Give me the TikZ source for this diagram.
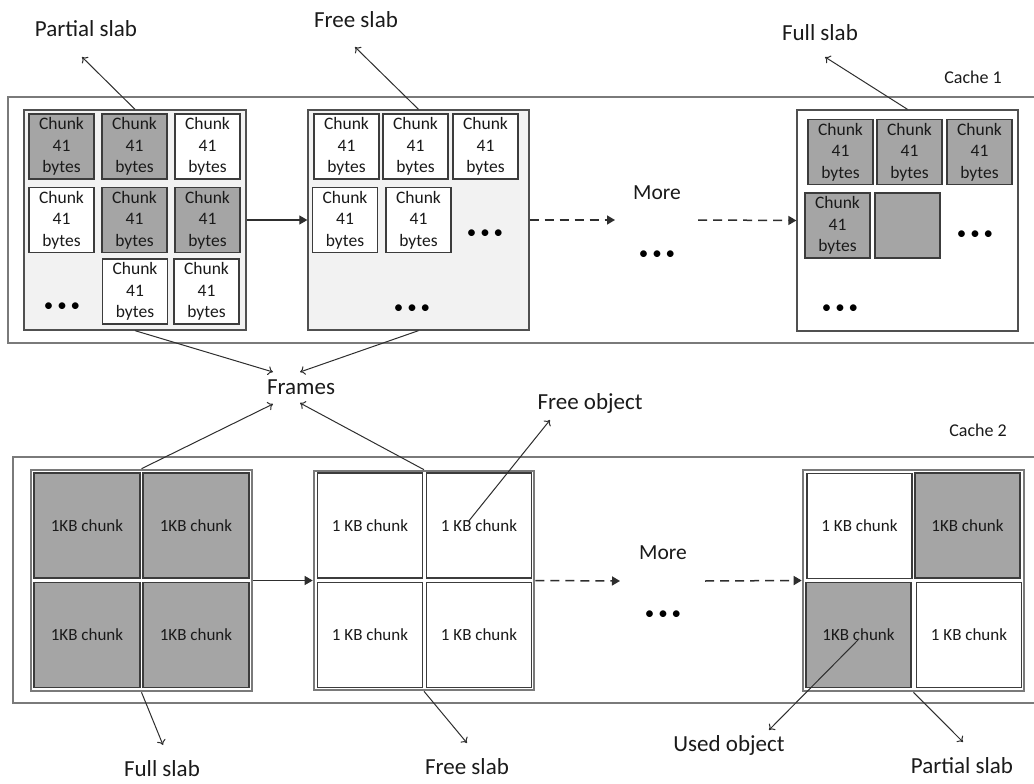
\documentclass[tikz,border=0pt]{standalone}
\usepackage{fontspec}
\setmainfont{Carlito}
\usetikzlibrary{arrows.meta}
\definecolor{txt}{HTML}{1A1A1A}
\definecolor{chunkg}{HTML}{A5A5A5}
\definecolor{slabbg}{HTML}{F2F2F2}
\definecolor{bordc}{HTML}{3C3C3C}
\definecolor{slabc}{HTML}{505050}
\definecolor{cachec}{HTML}{7A7A7A}
\definecolor{arrc}{HTML}{2E2E2E}
\begin{document}
\begin{tikzpicture}[x=1pt,y=-1pt,
  cachebox/.style={draw=cachec, line width=1.8pt, fill=white, inner sep=0pt},
  topslab/.style={draw=slabc, line width=1.3pt, inner sep=0pt},
  botslab/.style={draw=cachec, line width=2.6pt, fill=white, inner sep=0pt, minimum width=221pt, minimum height=221pt},
  chunk/.style={draw=bordc, line width=1.2pt, minimum width=65pt, minimum height=65pt, inner sep=0pt, align=center, text=txt, font=\fontsize{17.5}{21.5}\selectfont},
  gchunk/.style={chunk, fill=chunkg},
  wchunk/.style={chunk, fill=white},
  bchunk/.style={draw=bordc, line width=1.5pt, minimum width=105pt, minimum height=105pt, inner sep=0pt, text=txt, font=\fontsize{17}{20}\selectfont},
  bgchunk/.style={bchunk, fill=chunkg},
  bwchunk/.style={bchunk, fill=white},
  lbl/.style={text=txt, inner sep=0pt, font=\fontsize{23}{27}\selectfont},
  morelbl/.style={text=txt, inner sep=0pt, font=\fontsize{21.5}{25}\selectfont},
  cachelbl/.style={text=txt, inner sep=0pt, font=\fontsize{18}{22}\selectfont},
  dots/.style={text=black, inner sep=0pt, font=\fontsize{19}{22}\selectfont},
  lblarrow/.style={draw=arrc, line width=1pt, -{To[length=5pt,width=9pt]}},
  slabarrow/.style={draw=arrc, line width=1.1pt, -{Triangle[length=8pt,width=9pt]}},
  dasharrow/.style={draw=arrc, line width=1.5pt, dash pattern=on 9pt off 6pt, -{Triangle[length=8pt,width=9pt]}}
]
\useasboundingbox (0,0) rectangle (1034,784);
% ---------------- Cache 1 ----------------
\node[cachebox, minimum width=1034pt, minimum height=246pt] (cache1) at (525,220) {};
\node[topslab, fill=slabbg, minimum width=222pt, minimum height=220pt] (slab1) at (135,220) {};
\node[topslab, fill=slabbg, minimum width=221pt, minimum height=220pt] (slab2) at (418.5,220) {};
\node[topslab, fill=white, minimum width=221pt, minimum height=221pt] (slab3) at (907.5,220.5) {};
% slab 1 chunks
\node[gchunk] (a11) at (61.5,146.5) {Chunk\\41\\bytes};
\node[gchunk] (a12) at (134.5,146.5) {Chunk\\41\\bytes};
\node[wchunk] (a13) at (207.5,146.5) {Chunk\\41\\bytes};
\node[wchunk] (a21) at (61.5,220) {Chunk\\41\\bytes};
\node[gchunk] (a22) at (134.5,220) {Chunk\\41\\bytes};
\node[gchunk] (a23) at (207.5,220) {Chunk\\41\\bytes};
\node[wchunk] (a32) at (135,291.5) {Chunk\\41\\bytes};
\node[wchunk] (a33) at (206.5,291.5) {Chunk\\41\\bytes};
\node[dots] (d1) at (62,307) {•\hspace{4pt}•\hspace{4pt}•};
% slab 2 chunks
\node[wchunk] (b11) at (346.5,146.5) {Chunk\\41\\bytes};
\node[wchunk] (b12) at (415.5,146.5) {Chunk\\41\\bytes};
\node[wchunk] (b13) at (485.5,146.5) {Chunk\\41\\bytes};
\node[wchunk] (b21) at (345,220) {Chunk\\41\\bytes};
\node[wchunk] (b22) at (418.5,220) {Chunk\\41\\bytes};
\node[dots] (d2) at (485,234) {•\hspace{4pt}•\hspace{4pt}•};
\node[dots] (d3) at (412,309) {•\hspace{4pt}•\hspace{4pt}•};
% slab 3 chunks
\node[gchunk] (c11) at (840.5,152) {Chunk\\41\\bytes};
\node[gchunk] (c12) at (909.5,152) {Chunk\\41\\bytes};
\node[gchunk] (c13) at (979.5,152) {Chunk\\41\\bytes};
\node[gchunk] (c21) at (837.5,225.5) {Chunk\\41\\bytes};
\node[gchunk] (c22) at (907.5,225.5) {};
\node[dots] (d4) at (975,235) {•\hspace{4pt}•\hspace{4pt}•};
\node[dots] (d5) at (840,309) {•\hspace{4pt}•\hspace{4pt}•};
% more (top)
\node[morelbl] (more1) at (657,193) {More};
\node[dots] (d6) at (657,255) {•\hspace{4pt}•\hspace{4pt}•};
\coordinate (m1a) at (615,220);
\coordinate (m1b) at (698,220);
% labels top
\node[lbl] (lpartial1) at (86,29) {Partial slab};
\node[lbl] (lfree1) at (356,20) {Free slab};
\node[lbl] (lfull1) at (820,33) {Full slab};
\node[cachelbl] (lcache1) at (973,77) {Cache 1};
\coordinate (tp1) at (82,57);
\coordinate (tp2) at (355,47);
\coordinate (tp3) at (825,57);
\draw[lblarrow] (slab1.north) -- (tp1);
\draw[lblarrow] (slab2.north) -- (tp2);
\draw[lblarrow] (slab3.north) -- (tp3);
\draw[slabarrow] (slab1.east) -- (slab2.west);
\draw[dasharrow] (slab2.east) -- (m1a);
\draw[dasharrow] (m1b) -- (slab3.west);
% ---------------- Cache 2 ----------------
\node[cachebox, minimum width=1030pt, minimum height=246pt] (cache2) at (528,580) {};
\node[botslab] (slab4) at (141.5,580.5) {};
\node[botslab, minimum width=220pt, minimum height=219pt] (slab5) at (424,580.5) {};
\node[botslab] (slab6) at (913.5,580.5) {};
% slab 4 chunks
\node[bgchunk, minimum width=106pt] (e11) at (87,525.5) {1KB chunk};
\node[bgchunk, minimum width=106pt] (e12) at (196,525.5) {1KB chunk};
\node[bgchunk, minimum width=106pt] (e21) at (87,635) {1KB chunk};
\node[bgchunk, minimum width=106pt] (e22) at (196,635) {1KB chunk};
% slab 5 chunks
\node[bwchunk] (f11) at (370,525.5) {1 KB chunk};
\node[bwchunk] (f12) at (479,525.5) {1 KB chunk};
\node[bwchunk] (f21) at (370,635) {1 KB chunk};
\node[bwchunk] (f22) at (479,635) {1 KB chunk};
% slab 6 chunks
\node[bwchunk] (g11) at (859.5,526) {1 KB chunk};
\node[bgchunk] (g12) at (967.5,525.5) {1KB chunk};
\node[bgchunk] (g21) at (858.5,635) {1KB chunk};
\node[bwchunk] (g22) at (969,635) {1 KB chunk};
% more (bottom)
\node[morelbl] (more2) at (663,553) {More};
\node[dots] (d7) at (663,615) {•\hspace{4pt}•\hspace{4pt}•};
\coordinate (m2a) at (620,581);
\coordinate (m2b) at (705,581);
\draw[slabarrow] (slab4.east) -- (slab5.west);
\draw[dasharrow] (slab5.east) -- (m2a);
\draw[dasharrow] (m2b) -- (slab6.west);
\node[cachelbl] (lcache2) at (978,430) {Cache 2};
% Frames
\node[lbl] (frames) at (301,387) {Frames};
\coordinate (fr1) at (273,372);
\coordinate (fr2) at (300,372);
\coordinate (fr3) at (273,404);
\coordinate (fr4) at (300,403);
\draw[lblarrow] (slab1.south) -- (fr1);
\draw[lblarrow] (slab2.south) -- (fr2);
\draw[lblarrow] (slab4.north) -- (fr3);
\draw[lblarrow] (slab5.north) -- (fr4);
% Free object
\node[lbl] (lfreeobj) at (590,403) {Free object};
\coordinate (fo) at (550,420);
\coordinate (fos) at (468,522);
\draw[lblarrow] (fos) -- (fo);
% bottom labels
\node[lbl] (lfull2) at (162,769) {Full slab};
\node[lbl] (lfree2) at (467,767) {Free slab};
\node[lbl] (lused) at (729,745) {Used object};
\node[lbl] (lpartial2) at (962,766) {Partial slab};
\coordinate (bp1) at (163,745);
\coordinate (bp2) at (467,743);
\coordinate (bp3) at (769,730);
\coordinate (bp4) at (963,742);
\coordinate (uos) at (858,640);
\draw[lblarrow] (slab4.south) -- (bp1);
\draw[lblarrow] (slab5.south) -- (bp2);
\draw[lblarrow] (uos) -- (bp3);
\draw[lblarrow] (slab6.south) -- (bp4);
\end{tikzpicture}
\end{document}
